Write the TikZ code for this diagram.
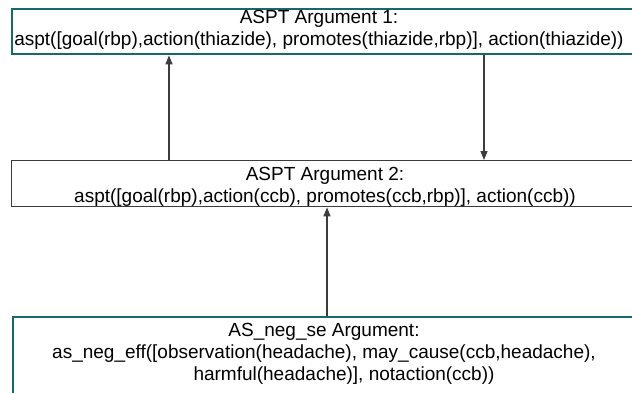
\documentclass[tikz,border=0pt]{standalone}
\usepackage{fontspec}
\setmainfont{Liberation Sans}
\usepackage{tikz}
\usetikzlibrary{arrows.meta, positioning}
\definecolor{argteal}{RGB}{24,104,104}
\definecolor{arrowgray}{RGB}{60,60,60}

\begin{document}
\begin{tikzpicture}[x=1pt, y=-1pt, >={Triangle[length=9pt, width=7pt]}, font=\fontsize{19}{22}\selectfont,
  argbox/.style={draw, anchor=north west, minimum width=700pt, inner sep=0pt},
  argtext/.style={align=center, inner sep=0pt}]
\useasboundingbox (0,0) rectangle (632,392);
\clip (0,0) rectangle (632,392);
\node[argbox, draw=argteal, line width=2.4pt, minimum height=45pt] (arg1) at (11,8) {};
\node[argbox, draw=arrowgray, line width=1.4pt, minimum height=46pt] (arg2) at (11,160) {};
\node[argbox, draw=argteal, line width=2.4pt, minimum height=120pt] (arg3) at (12,316) {};
\node[argtext] (arg1txt) at (319,30) {ASPT Argument 1:\\aspt([goal(rbp),action(thiazide), promotes(thiazide,rbp)], action(thiazide))};
\node[argtext] (arg2txt) at (325,186.5) {ASPT Argument 2:\\aspt([goal(rbp),action(ccb), promotes(ccb,rbp)], action(ccb))};
\node[argtext] (arg3txt) at (324,354) {AS\_neg\_se Argument:\\as\_neg\_eff([observation(headache), may\_cause(ccb,headache),\\\hspace*{40pt}harmful(headache)], notaction(ccb))};
\coordinate (up) at (169,0);
\coordinate (down) at (484,0);
\coordinate (attack) at (327,0);
\draw[->, arrowgray, line width=1.2pt] (arg2.north -| up) -- (arg1.south -| up);
\draw[->, arrowgray, line width=1.2pt] (arg1.south -| down) -- (arg2.north -| down);
\draw[->, arrowgray, line width=1.2pt] (arg3.north -| attack) -- (arg2.south -| attack);
\end{tikzpicture}
\end{document}
